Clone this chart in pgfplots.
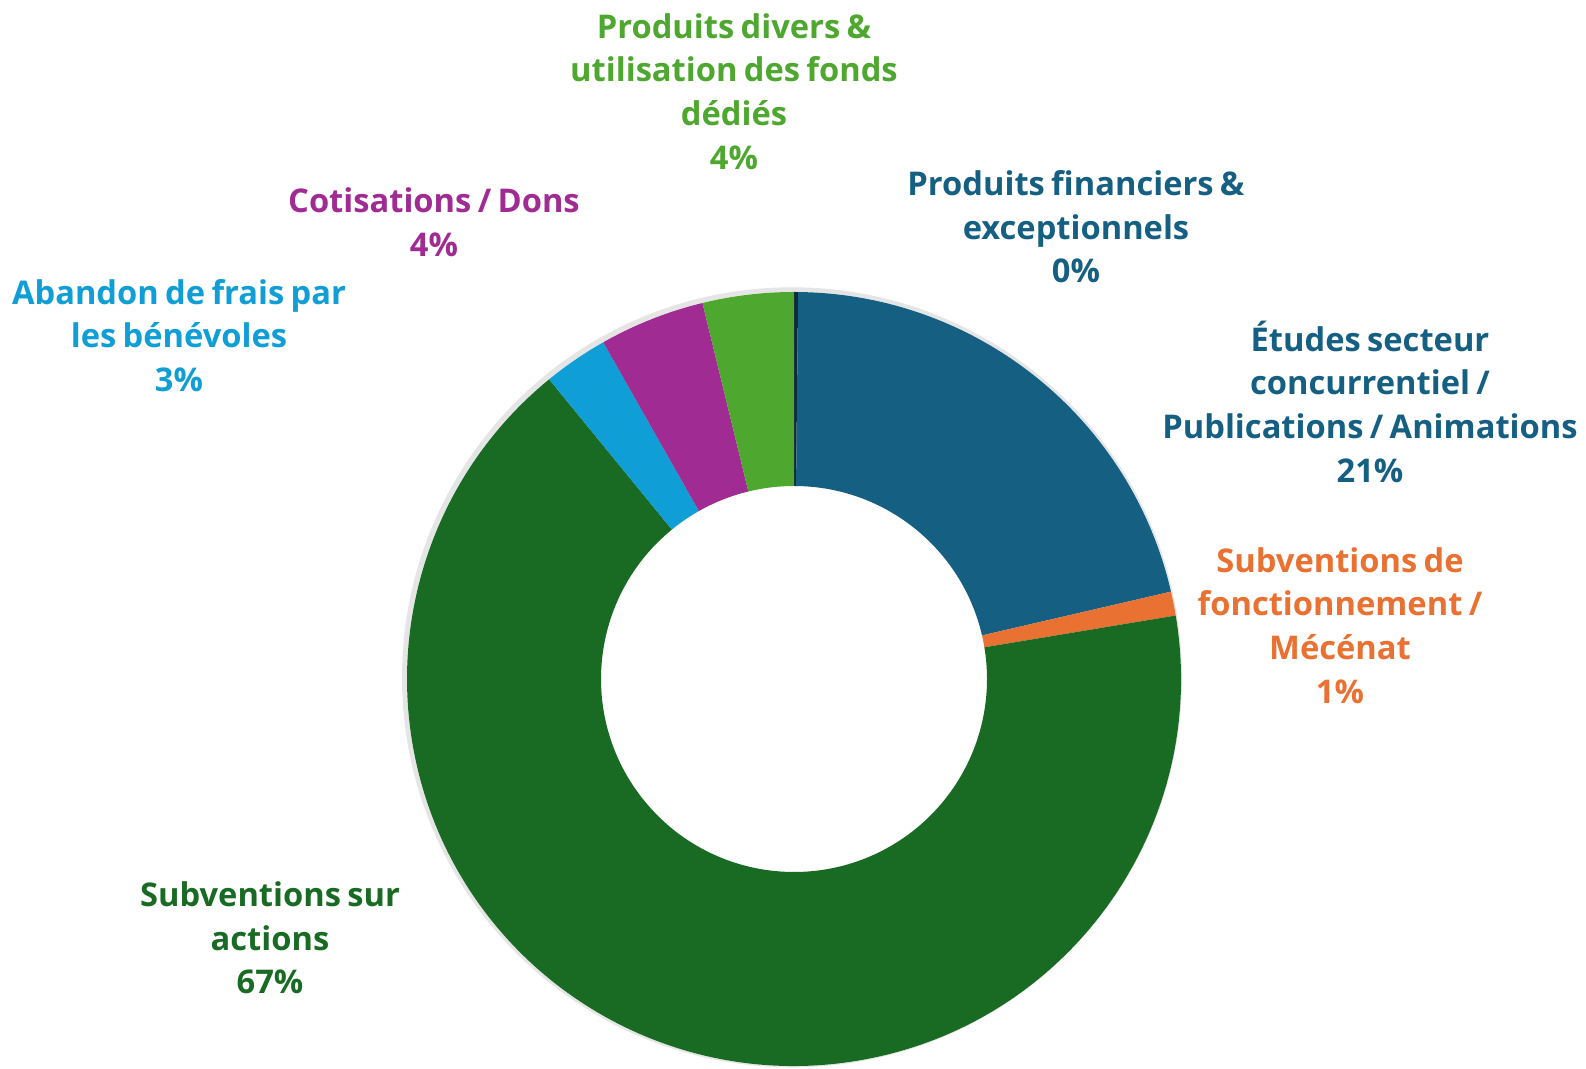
\documentclass[border=0pt]{standalone}
\usepackage{fontspec}
\setmainfont{Open Sans}[WordSpace=0.75]
\usepackage{pgfplots}
\pgfplotsset{compat=1.18}
\usepackage{pgfplotstable}
\usetikzlibrary{calc}

\definecolor{c0}{HTML}{0E2841}
\definecolor{c1}{HTML}{156082}
\definecolor{c2}{HTML}{E97132}
\definecolor{c3}{HTML}{196B24}
\definecolor{c4}{HTML}{0F9ED5}
\definecolor{c5}{HTML}{A02B93}
\definecolor{c6}{HTML}{4EA72E}

% parts in clockwise order from the top
\pgfplotstableread{
part value
fin 0.17
etu 21.2
fon 1.0
act 66.7
aba 2.7
cot 4.4
div 3.8
}\parts

% start/end angle of every slice
\xdef\total{0}
\pgfplotstableforeachcolumnelement{value}\of\parts\as\v{%
  \pgfmathsetmacro\tmpsum{\total+\v}\xdef\total{\tmpsum}}
\xdef\cum{0}
\pgfplotstableforeachcolumnelement{value}\of\parts\as\v{%
  \pgfmathsetmacro\angA{90-(\cum/\total)*360}%
  \pgfmathsetmacro\cumnew{\cum+\v}%
  \pgfmathsetmacro\angB{90-(\cumnew/\total)*360}%
  \expandafter\xdef\csname sa\pgfplotstablerow\endcsname{\angA}%
  \expandafter\xdef\csname sb\pgfplotstablerow\endcsname{\angB}%
  \xdef\cum{\cumnew}}

\begin{document}
\begin{tikzpicture}
\begin{axis}[
  scale only axis, width=475.8pt, height=320.7pt,
  xmin=0, xmax=1586, ymin=0, ymax=1069,
  hide axis, clip=false]
  \coordinate (sw) at (axis cs:0,0);
  \coordinate (ne) at (axis cs:1586,1069);
  \coordinate (c) at (axis cs:794,390);
  % soft shadow round the ring
  \fill[black, opacity=0.10] ($(c)+(-0.6pt,0.5pt)$) circle[radius=117.0pt];
  \fill[white] (c) circle[radius=116.1pt];
  \pgfplotsinvokeforeach{0,...,6}{
    \fill[c#1] (c) ++(\csname sa#1\endcsname:116.1pt)
      arc[start angle=\csname sa#1\endcsname, end angle=\csname sb#1\endcsname, radius=116.1pt]
      -- ($(c)+(\csname sb#1\endcsname:57.9pt)$)
      arc[start angle=\csname sb#1\endcsname, end angle=\csname sa#1\endcsname, radius=57.9pt]
      -- cycle;
  }
  \tikzset{lbl/.style={font=\bfseries\fontsize{9.8pt}{13.1pt}\selectfont, align=center, inner sep=0pt}}
  \node[lbl, text=c6] at (axis cs:734,977.5) {Produits divers \&\\utilisation des fonds\\dédiés\\4\%};
  \node[lbl, text=c1] at (axis cs:1076,842) {Produits financiers \&\\exceptionnels\\0\%};
  \node[lbl, text=c5] at (axis cs:434,846.5) {Cotisations / Dons\\4\%};
  \node[lbl, text=c4] at (axis cs:179,733.5) {Abandon de frais par\\les bénévoles\\3\%};
  \node[lbl, text=c1] at (axis cs:1370,667.5) {Études secteur\\concurrentiel /\\Publications / Animations\\21\%};
  \node[lbl, text=c2] at (axis cs:1340,443.5) {Subventions de\\fonctionnement /\\Mécénat\\1\%};
  \node[lbl, text=c3] at (axis cs:270,131) {Subventions sur\\actions\\67\%};
\end{axis}
\pgfresetboundingbox
\path (sw) rectangle (ne);
\end{tikzpicture}%
\end{document}
